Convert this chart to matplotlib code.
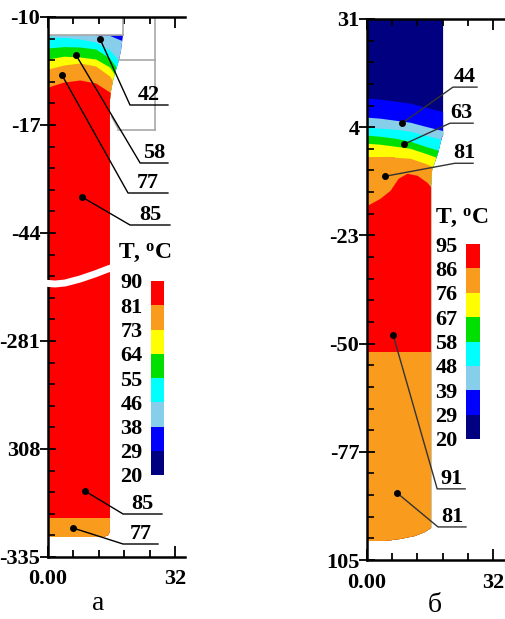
import numpy as np
import matplotlib
matplotlib.use("Agg")
import matplotlib.pyplot as plt
from matplotlib.patches import Polygon
from matplotlib.colors import ListedColormap, BoundaryNorm
from matplotlib.ticker import FixedLocator, FixedFormatter

plt.rcParams['font.family'] = ['Liberation Serif', 'DejaVu Serif']
plt.rcParams['font.weight'] = 'bold'
plt.rcParams['mathtext.fontset'] = 'custom'
plt.rcParams['mathtext.rm'] = 'Liberation Serif:bold'
plt.rcParams['mathtext.it'] = 'Liberation Serif:bold'
plt.rcParams['mathtext.bf'] = 'Liberation Serif:bold'

# band colours, cold -> hot
band_colors = ['#000080', '#0000FF', '#87CEEB', '#00FFFF', '#00E000', '#FFFF00', '#F99B1C', '#FF0000']

# ---------------- panel a ----------------
a_levels = [20, 29, 38, 46, 55, 64, 73, 81, 90]
a_yticks = [10, -17, -44, -71, -98, -125]
a_ylabels = ['-10', '-17', '-44', '-281', '308', '-335']

# outline of the computed domain
a_dom_x = [0, 18.9, 18.4, 17.9, 17.1, 16.4, 15.9, 15.6, 15.6, 15.2, 14.0, 0]
a_dom_y = [5.5, 5.5, 1.75, -0.75, -3.25, -5.75, -8.25, -10.75, -118.5, -119.5, -120, -120]

# lower edges of the temperature bands (top part)
a_x = [0, 4, 8, 12, 15.5, 19.5]
a_top = [5.5, 5.5, 5.5, 5.5, 5.5, 5.5]
a_blue_low = [5.5, 5.5, 5.5, 5.5, 5.4, 3.75]
a_lblue_low = [5.0, 4.9, 4.5, 3.75, 1.75, -2.75]
a_cyan_low = [2.25, 2.6, 2.5, 2.0, -0.25, -5.75]
a_green_low = [-0.5, 0.2, 0.0, -0.5, -2.5, -8.25]
a_yellow_low = [-3.0, -2.0, -1.5, -2.25, -4.75, -10.75]
a_orange_low = [-7.5, -6.25, -5.75, -6.5, -8.75, -13.25]
a_red_low = -115.25

# break line across the column
a_break_x = [-1.2, 1.75, 4.3, 8.1, 11.8, 15.1, 16.6]
a_break_y = [-56.5, -56.75, -56.5, -55.5, -54.25, -53.0, -52.5]

# grey mesh lines at the top right
a_grey = [([18.9, 18.9], [10, 5.5]), ([0, 18.9], [5.5, 5.5]),
          ([26.95, 26.95], [10, -18.25]), ([17.9, 26.95], [-0.75, -0.75]),
          ([17.6, 26.95], [-18.25, -18.25]), ([16.1, 17.6], [-15, -17.75])]

# labels: dot, elbow, end of underline, text
a_notes = [((13.1, 4.5), (20.65, -12), (30.2, -12), '42'),
           ((7.05, 0.5), (23.2, -26.5), (30.2, -26.5), '58'),
           ((3.5, -4.5), (20.15, -34), (30.2, -34), '77'),
           ((8.55, -35), (20.65, -42), (30.7, -42), '85'),
           ((9.3, -108.5), (18.9, -114.25), (28.7, -114.25), '85'),
           ((6.3, -117.75), (18.9, -121.75), (27.7, -121.75), '77')]

# ---------------- panel b ----------------
b_levels = [20, 29, 39, 48, 58, 67, 76, 86, 95]
b_yticks = [31, 4, -23, -50, -77, -104]
b_ylabels = ['31', '4', '-23', '-50', '-77', '105']

b_dom_x = [0, 19.3, 19.3, 19.0, 18.0, 16.5, 16.25, 16.25, 14.7, 12.2, 8.4, 4.6, 0]
b_dom_y = [31, 31, 2, 1.5, -2.5, -6.75, -10.5, -96, -97, -98, -98.75, -99.25, -99.25]

b_x = [0, 3.3, 7.1, 10.9, 14.7, 19.8]
b_top = [31, 31, 31, 31, 31, 31]
b_navy_low = [11.25, 11, 10.5, 10, 9, 7.75]
b_blue_low = [6.5, 6.25, 5.75, 5.25, 4.25, 3]
b_lblue_low = [4, 3.75, 3.5, 3, 2, 0.75]
b_cyan_low = [2, 1.75, 1.25, 0.5, -0.75, -2.25]
b_green_low = [0, -0.25, -0.75, -1.25, -2.5, -4.25]
b_yellow_low = [-3.5, -3.5, -3.5, -3.75, -5, -7.25]
b_red_x = [0, 3.3, 5.85, 7.9, 10.15, 12.7, 15.2, 16.5, 19.8]
b_red_top = [-15.5, -13.75, -11.75, -8.75, -7.5, -8, -9.75, -11.25, -12]
b_red_low = -52

b_notes = [((8.9, 5), (21.8, 14), (27.9, 14), '44'),
           ((9.4, -0.25), (21.05, 5), (26.9, 5), '63'),
           ((4.55, -8.25), (22.3, -5), (26.9, -5), '81'),
           ((6.6, -47.75), (17.8, -86.25), (24.9, -86.25), '91'),
           ((7.6, -87.25), (18.0, -95.75), (25.1, -95.75), '81')]

fig = plt.figure(figsize=(5.05, 6.19), dpi=100)


def setup_axes(ax, xmax, ylo, yhi, yticks, ylabels):
    ax.set_xlim(0, xmax)
    ax.set_ylim(ylo, yhi)
    ax.spines['right'].set_visible(False)
    for s in ['left', 'top', 'bottom']:
        ax.spines[s].set_linewidth(1.8)
        ax.spines[s].set_zorder(5)
    ax.xaxis.set_major_locator(FixedLocator([0, 32]))
    ax.xaxis.set_major_formatter(FixedFormatter(['0.00', '32']))
    ax.xaxis.set_minor_locator(FixedLocator([6.4, 12.8, 19.2, 25.6]))
    ax.yaxis.set_major_locator(FixedLocator(yticks))
    ax.yaxis.set_major_formatter(FixedFormatter(ylabels))
    ax.yaxis.set_minor_locator(FixedLocator(np.arange(yhi, ylo - 0.1, -5.4)))
    ax.tick_params(axis='x', which='both', direction='in', top=True, bottom=True, width=1.3)
    ax.tick_params(axis='x', which='major', length=8, pad=9, labelsize=16)
    ax.tick_params(axis='x', which='minor', length=5)
    ax.tick_params(axis='y', which='major', direction='inout', length=11, width=1.3, pad=0, labelsize=16)
    ax.tick_params(axis='y', which='minor', direction='in', length=5, width=1.2)


def fill_bands(ax, x, tops, colors, bottom, clip):
    for top, c in zip(tops, colors):
        f = ax.fill_between(x, top, bottom, color=c, lw=0, zorder=1)
        f.set_clip_path(clip)


def add_notes(ax, notes, lc):
    for dot, elbow, end, txt in notes:
        ax.plot([dot[0], elbow[0], end[0]], [dot[1], elbow[1], end[1]], color=lc, lw=1, zorder=4, clip_on=False)
        ax.plot(dot[0], dot[1], 'o', color='black', ms=4, zorder=4)
        ax.text((elbow[0] + end[0]) / 2, elbow[1], txt, ha='center', va='bottom', fontsize=16, zorder=4)


def add_colorbar(rect, levels, label_xy):
    cax = fig.add_axes(rect)
    cmap = ListedColormap(band_colors)
    norm = BoundaryNorm(levels, cmap.N)
    cb = fig.colorbar(plt.cm.ScalarMappable(norm=norm, cmap=cmap), cax=cax, ticks=levels)
    cb.outline.set_visible(False)
    cax.yaxis.set_ticks_position('left')
    cax.tick_params(length=0, pad=6, labelsize=16)
    fig.text(label_xy[0], label_xy[1], r'T, $^{\mathrm{o}}$C', ha='left', va='center', fontsize=17)


# panel a
ax1 = fig.add_axes([48 / 505, 1 - 557 / 619, 137 / 505, 540 / 619])
setup_axes(ax1, 34.5, -125, 10, a_yticks, a_ylabels)
clip_a = Polygon(np.column_stack([a_dom_x, a_dom_y]), closed=True, transform=ax1.transData)
fill_bands(ax1, a_x,
           [a_top, a_blue_low, a_lblue_low, a_cyan_low, a_green_low, a_yellow_low, a_orange_low,
            [a_red_low] * len(a_x)],
           ['#0000FF', '#87CEEB', '#00FFFF', '#00E000', '#FFFF00', '#F99B1C', '#FF0000', '#F99B1C'],
           -125, clip_a)
for gx, gy in a_grey:
    ax1.plot(gx, gy, color='#A8A8A8', lw=1.2, zorder=2)
# the break goes over the left spine too
ax1.plot(a_break_x, a_break_y, color='white', lw=5, zorder=6, solid_capstyle='butt', clip_on=False)
add_notes(ax1, a_notes, 'black')
add_colorbar([151 / 505, 1 - 475 / 619, 13 / 505, 194 / 619], a_levels, (118 / 505, 1 - 253 / 619))

# panel b
ax2 = fig.add_axes([367 / 505, 1 - 560 / 619, 138 / 505, 541 / 619])
setup_axes(ax2, 35, -104, 31, b_yticks, b_ylabels)
clip_b = Polygon(np.column_stack([b_dom_x, b_dom_y]), closed=True, transform=ax2.transData)
fill_bands(ax2, b_x,
           [b_top, b_navy_low, b_blue_low, b_lblue_low, b_cyan_low, b_green_low, b_yellow_low],
           band_colors[:7], -104, clip_b)
fill_bands(ax2, b_red_x, [b_red_top, [b_red_low] * len(b_red_x)], ['#FF0000', '#F99B1C'], -104, clip_b)
add_notes(ax2, b_notes, '#333333')
add_colorbar([466 / 505, 1 - 439 / 619, 14 / 505, 195 / 619], b_levels, (435 / 505, 1 - 218 / 619))

fig.text(98 / 505, 1 - 604 / 619, 'а', ha='center', va='center', fontsize=20, fontweight='normal')
fig.text(435 / 505, 1 - 605 / 619, 'б', ha='center', va='center', fontsize=20, fontweight='normal')

fig.savefig('out.png', dpi=100)
